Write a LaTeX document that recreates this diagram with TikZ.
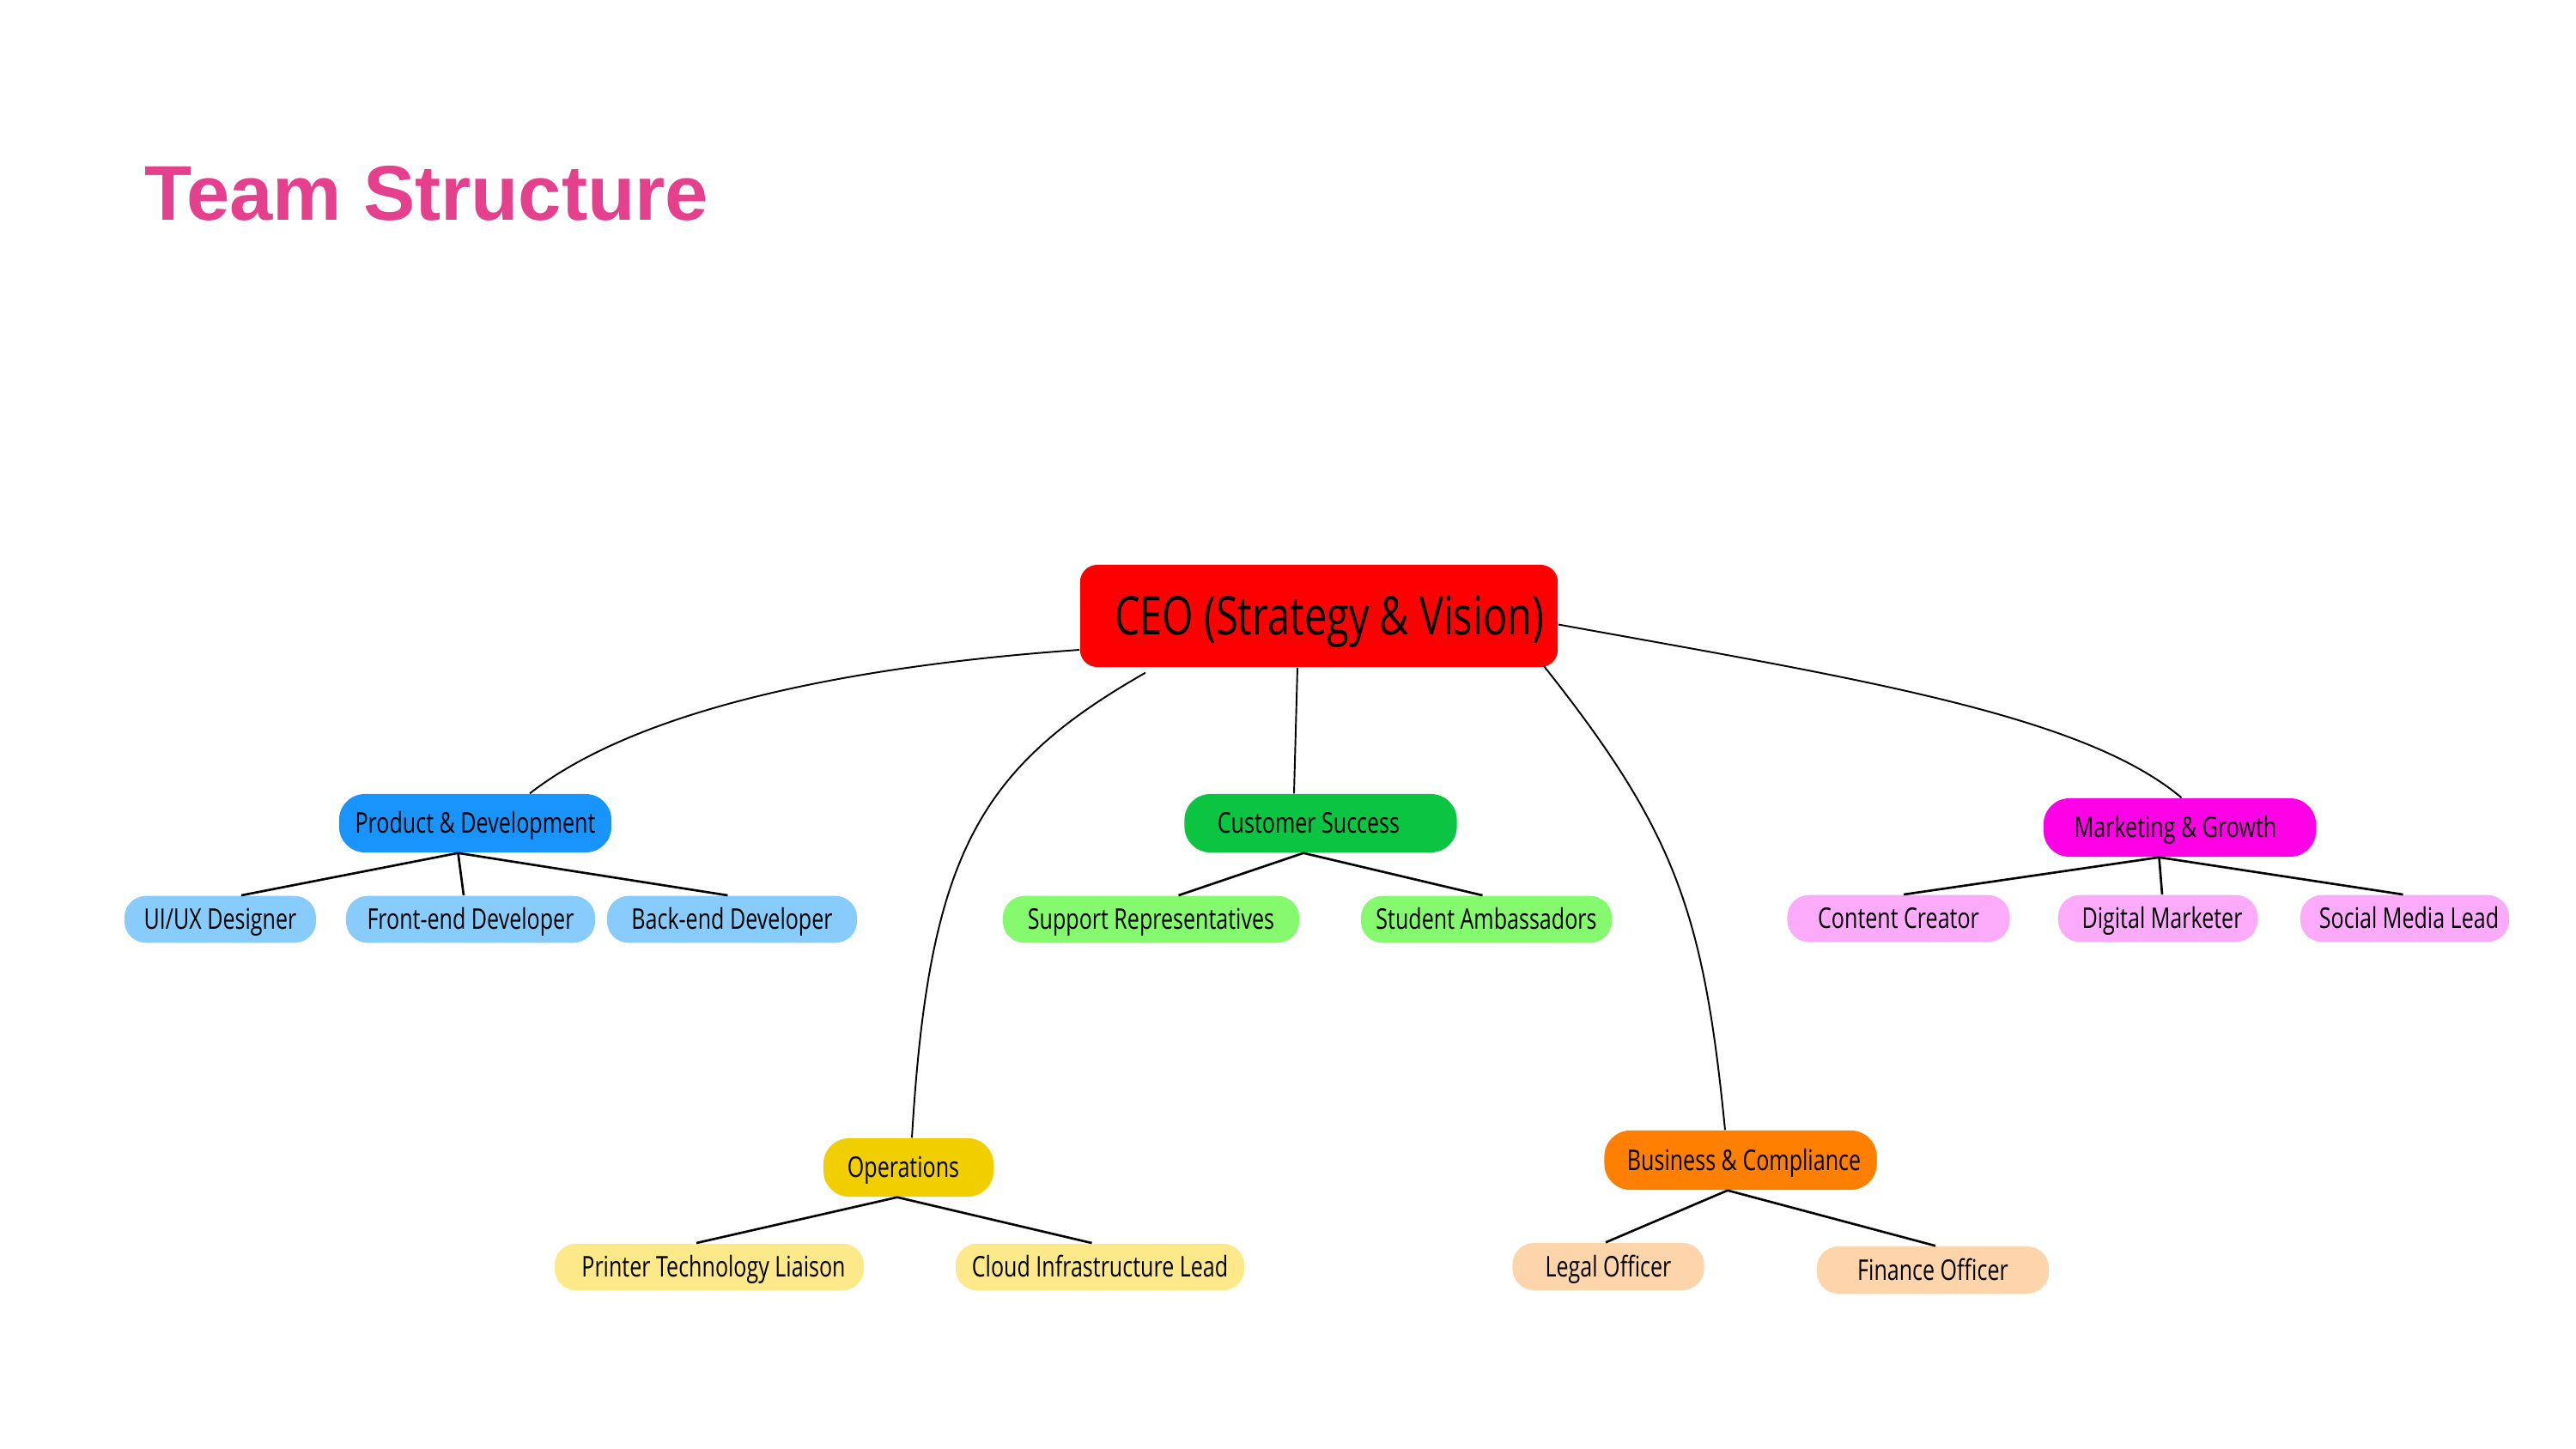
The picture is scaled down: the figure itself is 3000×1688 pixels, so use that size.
\documentclass[tikz,border=0pt]{standalone}
\usepackage{fontspec}
\setmainfont{Open Sans}[FakeStretch=0.755]
\newfontfamily\titlefont{Liberation Sans}
\definecolor{titlepink}{RGB}{228,64,141}
\definecolor{ceored}{RGB}{255,0,0}
\definecolor{pdblue}{RGB}{24,148,252}
\definecolor{lfblue}{RGB}{135,204,252}
\definecolor{csgreen}{RGB}{10,196,66}
\definecolor{lfgreen}{RGB}{134,250,110}
\definecolor{mgpink}{RGB}{255,0,230}
\definecolor{lfpink}{RGB}{252,170,250}
\definecolor{opgold}{RGB}{240,206,0}
\definecolor{lfyellow}{RGB}{254,233,138}
\definecolor{bcorange}{RGB}{255,128,0}
\definecolor{lfpeach}{RGB}{254,212,170}
\begin{document}
\begin{tikzpicture}[x=0.01cm,y=-0.01cm,
  box/.style={rectangle, inner sep=0pt, text=black, text height=6.74pt, text depth=0pt,
    font=\fontsize{9.44pt}{11pt}\selectfont},
  mid/.style={box, minimum height=0.68cm, rounded corners=0.3cm},
  leaf/.style={box, minimum height=0.545cm, rounded corners=0.25cm},
  curve/.style={draw=black, line width=0.55pt},
  link/.style={draw=black, line width=0.75pt},
]
\useasboundingbox[fill=white] (0,0) rectangle (3000,1688);

\node[anchor=base west, text=titlepink, inner sep=0pt,
  font=\titlefont\bfseries\fontsize{25.7pt}{30pt}\selectfont] (title) at (168,256) {Team Structure};

% CEO
\node[box, fill=ceored, minimum width=5.56cm, minimum height=1.19cm, rounded corners=0.2cm,
  text height=12.6pt, font=\fontsize{17.64pt}{20pt}\selectfont] (ceo) at (1536,717.5)
  {\hspace*{0.24cm}CEO (Strategy \& Vision)};

% Product & Development
\node[mid, fill=pdblue, minimum width=3.17cm] (pd) at (553.5,959) {Product \& Development};
\node[leaf, fill=lfblue, minimum width=2.23cm] (ui) at (256.5,1071) {UI/UX Designer};
\node[leaf, fill=lfblue, minimum width=2.90cm] (fe) at (548,1071) {Front-end Developer};
\node[leaf, fill=lfblue, minimum width=2.91cm] (be) at (852.5,1071) {Back-end Developer};

% Customer Success
\node[mid, fill=csgreen, minimum width=3.17cm] (cs) at (1538,959) {Customer Success\hspace*{0.28cm}};
\node[leaf, fill=lfgreen, minimum width=3.45cm] (sr) at (1340.5,1071) {Support Representatives};
\node[leaf, fill=lfgreen, minimum width=2.92cm] (sa) at (1731,1071) {Student Ambassadors};

% Marketing & Growth
\node[mid, fill=mgpink, minimum width=3.17cm] (mg) at (2538.5,964) {Marketing \& Growth\hspace*{0.1cm}};
\node[leaf, fill=lfpink, minimum width=2.59cm] (cc) at (2211,1070) {Content Creator};
\node[leaf, fill=lfpink, minimum width=2.32cm] (dm) at (2513,1070) {\hspace*{0.1cm}Digital Marketer};
\node[leaf, fill=lfpink, minimum width=2.43cm] (sm) at (2800.5,1070) {\hspace*{0.1cm}Social Media Lead};

% Operations
\node[mid, fill=opgold, minimum width=1.98cm] (op) at (1058,1360) {Operations\hspace*{0.12cm}};
\node[leaf, fill=lfyellow, minimum width=3.60cm] (pt) at (826,1476) {\hspace*{0.1cm}Printer Technology Liaison};
\node[leaf, fill=lfyellow, minimum width=3.36cm] (ci) at (1281,1476) {Cloud Infrastructure Lead};

% Business & Compliance
\node[mid, fill=bcorange, minimum width=3.17cm, minimum height=0.69cm] (bc) at (2027,1351.5) {\hspace*{0.08cm}Business \& Compliance};
\node[leaf, fill=lfpeach, minimum width=2.23cm, minimum height=0.55cm] (lo) at (1873,1475.5) {Legal Officer};
\node[leaf, fill=lfpeach, minimum width=2.70cm, minimum height=0.55cm] (fo) at (2251,1479.5) {Finance Officer};

% CEO connectors
\draw[curve] ([yshift=-0.395cm]ceo.west) .. controls (958,778) and (732.5,834) .. ([xshift=0.635cm]pd.north);
\draw[curve] ([xshift=-2.02cm,yshift=-0.06cm]ceo.south) .. controls (1138,895.5) and (1081.5,998) .. ([xshift=0.04cm]op.north);
\draw[curve] ([xshift=-0.25cm]ceo.south) -- ([xshift=-0.31cm]cs.north);
\draw[curve] ([xshift=-0.17cm,yshift=0.02cm]ceo.south east) .. controls (1952,970) and (1984,1064) .. ([xshift=-0.18cm]bc.north);
\draw[curve] ([yshift=-0.1cm]ceo.east) .. controls (2160,790) and (2425.5,832) .. ([xshift=0.02cm]mg.north);

% department connectors
\draw[link] ([xshift=-0.2cm]pd.south) -- ([xshift=0.245cm]ui.north);
\draw[link] ([xshift=-0.2cm]pd.south) -- ([xshift=-0.08cm]fe.north);
\draw[link] ([xshift=-0.2cm]pd.south) -- ([xshift=-0.05cm]be.north);

\draw[link] ([xshift=-0.2cm]cs.south) -- ([xshift=0.32cm]sr.north);
\draw[link] ([xshift=-0.2cm]cs.south) -- ([xshift=-0.045cm]sa.north);

\draw[link] ([xshift=-0.24cm]mg.south) -- ([xshift=0.06cm]cc.north);
\draw[link] ([xshift=-0.24cm]mg.south) -- ([xshift=0.05cm]dm.north);
\draw[link] ([xshift=-0.24cm]mg.south) -- ([xshift=-0.02cm]sm.north);

\draw[link] ([xshift=-0.13cm]op.south) -- ([xshift=-0.15cm]pt.north);
\draw[link] ([xshift=-0.13cm]op.south) -- ([xshift=-0.095cm]ci.north);

\draw[link] ([xshift=-0.15cm]bc.south) -- ([xshift=-0.03cm]lo.north);
\draw[link] ([xshift=-0.15cm]bc.south) -- ([xshift=0.03cm]fo.north);
\end{tikzpicture}
\end{document}
